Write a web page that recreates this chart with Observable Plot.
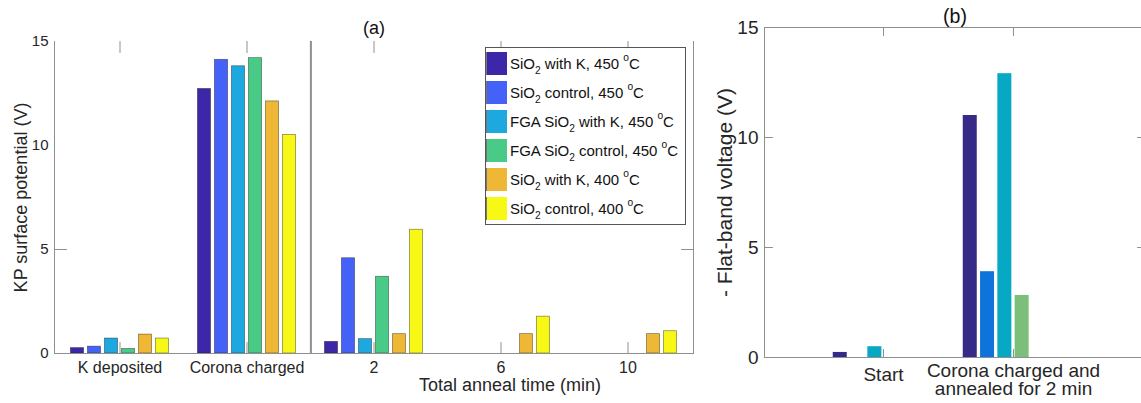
<!DOCTYPE html>
<html>
<head>
<meta charset="utf-8">
<script src="https://cdn.jsdelivr.net/npm/d3@7"></script>
<script src="https://cdn.jsdelivr.net/npm/@observablehq/plot@0.6"></script>
<style>
  body { margin: 0; background: #fff; }
  #fig { position: relative; width: 1141px; height: 403px; overflow: hidden; background: #fff;
         font-family: "Liberation Sans", Arial, Helvetica, sans-serif; }
  #fig > svg { position: absolute; top: 0; }
  .legend { position: absolute; left: 485px; top: 47px; width: 201px; height: 178px; box-sizing: border-box;
            border: 1px solid #555; background: #fff; font-size: 15px; color: #111; }
  .legend .row { position: absolute; left: 0; height: 23px; display: flex; align-items: center; white-space: nowrap; }
  .legend .sw { width: 21px; height: 23px; margin-right: 3px; border-left: 1px solid #777; box-sizing: border-box; }
  .legend sub, .legend sup { font-size: 0.68em; line-height: 0; }
  .legend sub { vertical-align: -0.45em; }
  .legend sup { vertical-align: 0.75em; }
</style>
</head>
<body>
<div id="fig"></div>
<script>
// ---- (a) Kelvin-probe surface potential ----
const categoriesA = ["K deposited", "Corona charged", "2", "6", "10"];
const seriesA = [
  "SiO2 with K, 450 °C",
  "SiO2 control, 450 °C",
  "FGA SiO2 with K, 450 °C",
  "FGA SiO2 control, 450 °C",
  "SiO2 with K, 400 °C",
  "SiO2 control, 400 °C"
];
const colorsA = ["#3e26a8", "#4462f8", "#1da9df", "#49ca87", "#eeb735", "#f8f816"];
// KP surface potential (V) per category; null = not measured
const kpWithK450     = [0.26, 12.72, 0.56, null, null];
const kpControl450   = [0.33, 14.12, 4.58, null, null];
const kpFgaWithK450  = [0.72, 13.81, 0.69, null, null];
const kpFgaControl450 = [0.22, 14.20, 3.69, null, null];
const kpWithK400     = [0.91, 12.12, 0.93, 0.93, 0.93];
const kpControl400   = [0.72, 10.51, 5.95, 1.77, 1.07];
const valuesA = [kpWithK450, kpControl450, kpFgaWithK450, kpFgaControl450, kpWithK400, kpControl400];
const yTicksA = [0, 5, 10, 15];

// ---- (b) flat-band voltage ----
const categoriesB = ["Start", "Corona charged and annealed for 2 min"];
const colorsB = ["#352a87", "#0e74dc", "#06a8c3", "#7cbf7b"];
const vfbWithK450      = [0.23, 11.0];
const vfbControl450    = [null, 3.9];
const vfbFgaWithK450   = [0.49, 12.9];
const vfbFgaControl450 = [null, 2.82];
const valuesB = [vfbWithK450, vfbControl450, vfbFgaWithK450, vfbFgaControl450];
const yTicksB = [0, 5, 10, 15];

// ---- shared styling ----
const font = '"Liberation Sans", Arial, Helvetica, sans-serif';
const axisGrey = "#8f8f8f";
const ink = "#262626";

// a plain tick line, drawn upward before rotation
const tickShape = {draw(context, length) { context.moveTo(0, 0); context.lineTo(0, -length); }};
function frameTicks(data, options) {
  return Plot.vector(data, {anchor: "start", shape: tickShape, stroke: axisGrey, strokeWidth: 1, ...options});
}
function groupedBars(categories, values, colors, bandwidth, step, barWidth, slots, extra = {}) {
  const inset = (bandwidth - barWidth) / 2;
  return values.map((vals, s) => Plot.barY(
    categories.map((c, i) => ({category: c, value: vals[i]})).filter(d => d.value != null),
    {x: "category", y: "value", fill: colors[s], insetLeft: inset, insetRight: inset,
     dx: (s - (slots - 1) / 2) * step, ...extra}
  ));
}

const fig = document.getElementById("fig");

// panel (a)
const A = {width: 700, height: 403, left: 54, right: 7, top: 41, bottom: 50};
const bwA = (A.width - A.left - A.right) / categoriesA.length;
const plotA = Plot.plot({
  width: A.width, height: A.height,
  marginLeft: A.left, marginRight: A.right, marginTop: A.top, marginBottom: A.bottom,
  style: {fontFamily: font, fontSize: "16px", color: ink, background: "transparent"},
  x: {type: "band", domain: categoriesA, padding: 0},
  y: {domain: [0, 15]},
  marks: [
    frameTicks(categoriesA, {x: d => d, frameAnchor: "bottom", rotate: 0, length: 11}),
    frameTicks(categoriesA, {x: d => d, frameAnchor: "top", rotate: 180, length: 11}),
    frameTicks([5], {y: d => d, frameAnchor: "left", rotate: 90, length: 12}),
    frameTicks([5], {y: d => d, frameAnchor: "right", rotate: -90, length: 12}),
    ...groupedBars(categoriesA, valuesA, colorsA, bwA, 17, 14, 6,
      {stroke: "#1a1a1a", strokeWidth: 0.7, strokeOpacity: 0.55}),
    Plot.ruleX(["Corona charged"], {x: d => d, dx: bwA / 2, stroke: axisGrey, strokeWidth: 2}),
    Plot.frame({anchor: "left", stroke: axisGrey}),
    Plot.frame({anchor: "bottom", stroke: axisGrey}),
    Plot.frame({anchor: "right", stroke: axisGrey}),
    Plot.axisY(yTicksA, {tickSize: 0, tickPadding: 6, fontSize: 15, label: null}),
    Plot.axisX({tickSize: 0, tickPadding: 8, fontSize: 16, label: null}),
    Plot.text(["(a)"], {x: ["2"], frameAnchor: "top", dy: -13, lineAnchor: "middle", fontSize: 18, fill: "#111"}),
    Plot.text(["KP surface potential (V)"], {frameAnchor: "left", dx: -33.5, rotate: -90,
      textAnchor: "middle", lineAnchor: "middle", fontSize: 18, fill: ink}),
    Plot.text(["Total anneal time (min)"], {x: ["6"], dx: 9, frameAnchor: "bottom", dy: 31.5,
      lineAnchor: "middle", fontSize: 18, fill: ink})
  ]
});
plotA.style.left = "0px";
fig.appendChild(plotA);

// panel (b)
const B = {width: 445, height: 403, left: 64, right: 0, top: 27, bottom: 46};
const rangeB = [118, 378];
const bwB = (rangeB[1] - rangeB[0]) / categoriesB.length;
const plotB = Plot.plot({
  width: B.width, height: B.height,
  marginLeft: B.left, marginRight: B.right, marginTop: B.top, marginBottom: B.bottom,
  style: {fontFamily: font, fontSize: "19px", color: ink, background: "transparent", maxWidth: "none"},
  x: {type: "band", domain: categoriesB, range: rangeB, padding: 0},
  y: {domain: [0, 15]},
  marks: [
    frameTicks(categoriesB, {x: d => d, frameAnchor: "bottom", rotate: 0, length: 8}),
    frameTicks(categoriesB, {x: d => d, frameAnchor: "top", rotate: 180, length: 8}),
    frameTicks([5, 10], {y: d => d, frameAnchor: "left", rotate: 90, length: 8}),
    frameTicks([5, 10], {y: d => d, frameAnchor: "right", rotate: -90, length: 8}),
    ...groupedBars(categoriesB, valuesB, colorsB, bwB, 17.3, 14, 6),
    Plot.frame({stroke: axisGrey}),
    Plot.axisY(yTicksB, {tickSize: 0, tickPadding: 6, fontSize: 19, label: null}),
    Plot.axisX(["Start"], {tickSize: 0, tickPadding: 9.5, fontSize: 19, label: null}),
    Plot.axisX([categoriesB[1]], {tickSize: 0, tickPadding: 5.5, fontSize: 19, label: null,
      tickFormat: d => d.replace(" and ", " and\n")}),
    Plot.text(["(b)"], {frameAnchor: "top", dy: -11, lineAnchor: "middle", fontSize: 19.5, fill: "#111"}),
    Plot.text(["- Flat-band voltage (V)"], {frameAnchor: "left", dx: -39, rotate: -90,
      textAnchor: "middle", lineAnchor: "middle", fontSize: 21, fill: ink})
  ]
});
plotB.style.left = "700px";
fig.appendChild(plotB);

// legend for panel (a)
const richLabel = s => s.replace("SiO2", "SiO<sub>2</sub>").replace(" °C", " <sup>o</sup>C");
const legend = document.createElement("div");
legend.className = "legend";
seriesA.forEach((name, i) => {
  const row = document.createElement("div");
  row.className = "row";
  row.style.top = (4 + 28.9 * i) + "px";
  row.innerHTML = `<span class="sw" style="background:${colorsA[i]}"></span><span>${richLabel(name)}</span>`;
  legend.appendChild(row);
});
fig.appendChild(legend);
</script>
</body>
</html>
